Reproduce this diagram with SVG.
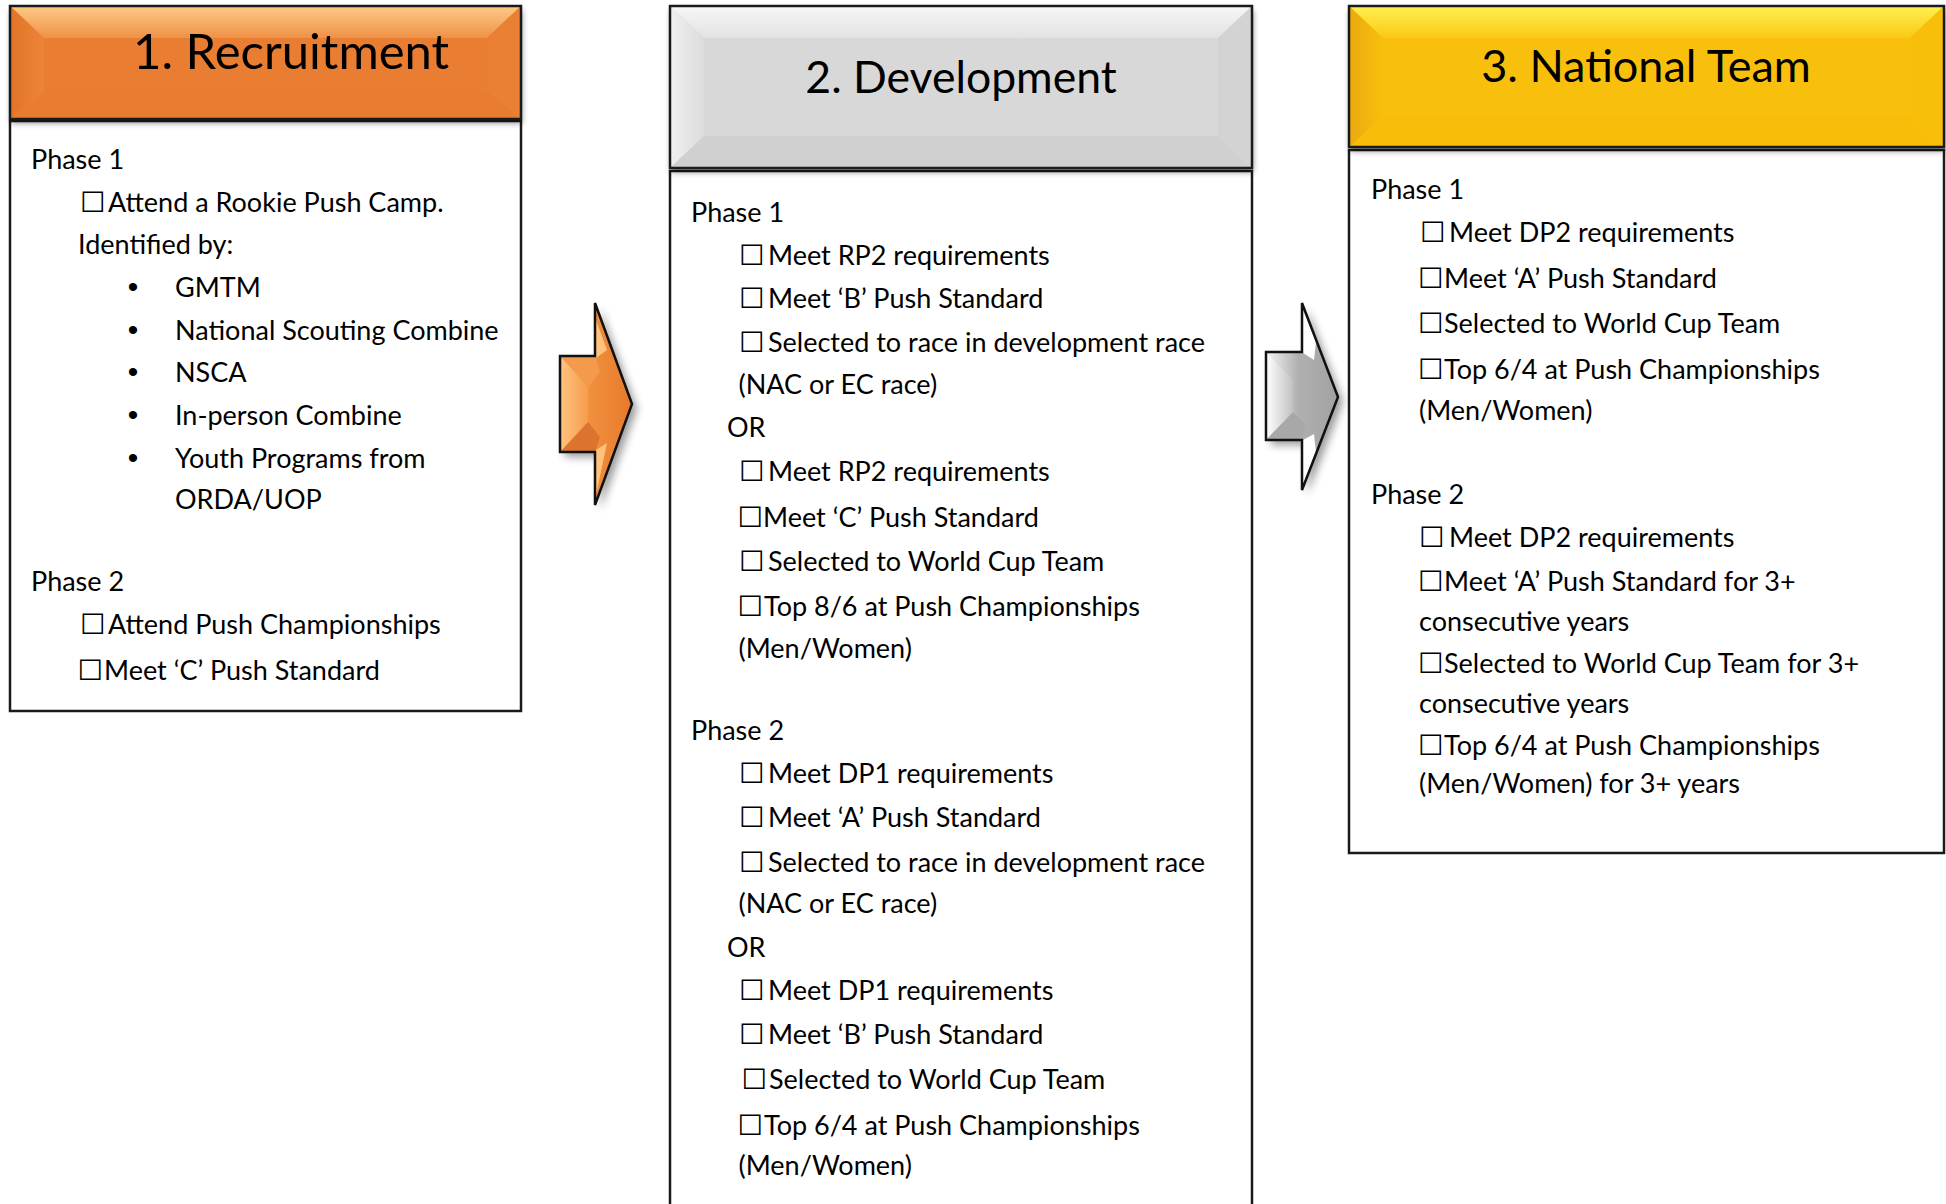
<svg xmlns="http://www.w3.org/2000/svg" width="1946" height="1204" viewBox="0 0 1946 1204">
<defs>
<style>
.t{font-family:Lato,"Liberation Sans",sans-serif;font-size:27px;fill:#000}
.cb{font-family:"DejaVu Sans",sans-serif;font-size:28.5px;fill:#000}
.bul{font-family:"Liberation Sans",sans-serif;font-size:30px;fill:#000;text-anchor:middle}
.ttl{font-family:Lato,"Liberation Sans",sans-serif;fill:#000}
.body{fill:#fff;stroke:#1a1a1a;stroke-width:2.5}
.hdr{stroke:#1a1a1a;stroke-width:2.5;fill:none}
.arr{stroke:#111;stroke-width:2.5;stroke-linejoin:miter;fill:none}
</style>
<filter id="sh" x="-10%" y="-10%" width="130%" height="140%">
<feGaussianBlur in="SourceAlpha" stdDeviation="3"/>
<feOffset dx="1" dy="4" result="b"/>
<feComponentTransfer><feFuncA type="linear" slope="0.45"/></feComponentTransfer>
<feMerge><feMergeNode/><feMergeNode in="SourceGraphic"/></feMerge>
</filter>
<filter id="ash" x="-30%" y="-20%" width="170%" height="150%">
<feGaussianBlur in="SourceAlpha" stdDeviation="4"/>
<feOffset dx="5" dy="5" result="b"/>
<feComponentTransfer><feFuncA type="linear" slope="0.4"/></feComponentTransfer>
<feMerge><feMergeNode/><feMergeNode in="SourceGraphic"/></feMerge>
</filter>
<linearGradient id="oTop" x1="0" y1="0" x2="0" y2="1"><stop offset="0" stop-color="#FDCB86"/><stop offset="1" stop-color="#EF9147"/></linearGradient>
<linearGradient id="oLeft" x1="0" y1="0" x2="1" y2="0"><stop offset="0" stop-color="#E27426"/><stop offset="1" stop-color="#EC8538"/></linearGradient>
<linearGradient id="gTop" x1="0" y1="0" x2="0" y2="1"><stop offset="0" stop-color="#F7F7F7"/><stop offset="1" stop-color="#E2E2E2"/></linearGradient>
<linearGradient id="gLeft" x1="0" y1="0" x2="1" y2="0"><stop offset="0" stop-color="#F0F0F0"/><stop offset="1" stop-color="#DCDCDC"/></linearGradient>
<linearGradient id="yTop" x1="0" y1="0" x2="0" y2="1"><stop offset="0" stop-color="#FFF050"/><stop offset="1" stop-color="#FAC915"/></linearGradient>
<linearGradient id="yLeft" x1="0" y1="0" x2="1" y2="0"><stop offset="0" stop-color="#E9AA10"/><stop offset="1" stop-color="#F8BF0C"/></linearGradient>
<linearGradient id="oArr" gradientUnits="userSpaceOnUse" x1="560" y1="0" x2="632" y2="0"><stop offset="0" stop-color="#FFC884"/><stop offset="0.4" stop-color="#F0913F"/><stop offset="1" stop-color="#E8792B"/></linearGradient>
<linearGradient id="oArrL" gradientUnits="userSpaceOnUse" x1="560" y1="0" x2="590" y2="0"><stop offset="0" stop-color="#FFC480"/><stop offset="1" stop-color="#F59A4A"/></linearGradient>
<linearGradient id="gArr" gradientUnits="userSpaceOnUse" x1="1266" y1="0" x2="1338" y2="0"><stop offset="0" stop-color="#F4F4F4"/><stop offset="0.45" stop-color="#B0B0B0"/><stop offset="1" stop-color="#A2A2A2"/></linearGradient>
<linearGradient id="gArrL" gradientUnits="userSpaceOnUse" x1="1266" y1="0" x2="1295" y2="0"><stop offset="0" stop-color="#FFFFFF"/><stop offset="1" stop-color="#BDBDBD"/></linearGradient>
</defs>
<rect width="1946" height="1204" fill="#fff"/>

<g id="connectors">
<g id="arrow1">
<polygon points="560,356 595,356 595,303 632,404 595,505 595,452 560,452" fill="url(#oArr)" filter="url(#ash)"/>
<polygon points="560,356 588,387 588,422 560,452" fill="url(#oArrL)"/>
<polygon points="560,356 595,356 600,372 588,387" fill="#F39A4C"/>
<polygon points="560,452 588,422 600,437 595,452" fill="#DC7430"/>
<polygon points="596,320 596,358 607,350" fill="#FFC37E"/>
<polygon points="596,450 596,495 607,443" fill="#FFC37E"/>
<polygon class="arr" points="560,356 595,356 595,303 632,404 595,505 595,452 560,452"/>
</g>
<g id="arrow2">
<polygon points="1266,352 1302,352 1302,303 1338,397 1302,490 1302,440 1266,440" fill="url(#gArr)" filter="url(#ash)"/>
<polygon points="1266,352 1293,380 1293,412 1266,440" fill="url(#gArrL)"/>
<polygon points="1266,440 1293,412 1306,425 1302,440" fill="#A8A8A8"/>
<polygon points="1303,310 1303,353 1314,360 1316,342" fill="#FFFFFF"/>
<polygon points="1303,484 1303,440 1314,434 1316,452" fill="#FFFFFF"/>
<polygon class="arr" points="1266,352 1302,352 1302,303 1338,397 1302,490 1302,440 1266,440"/>
</g>
</g>

<g id="node1">
<rect class="body" x="10" y="121" width="511" height="590"/>
<g filter="url(#sh)">
<rect x="10" y="6" width="511" height="113" fill="#E97D31"/>
</g>
<polygon points="10,6 521,6 487,38 44,38" fill="url(#oTop)"/>
<polygon points="10,6 44,38 44,92 10,119" fill="url(#oLeft)"/>
<polygon points="521,6 521,119 487,92 487,38" fill="#EA8033"/>
<polygon points="10,119 44,92 487,92 521,119" fill="#E87C30"/>
<rect class="hdr" x="10" y="6" width="511" height="113"/>
<text class="ttl" x="133" y="69" font-size="49">1. Recruitment</text>
<g transform="translate(0,2)">
<text class="t" x="31" y="167">Phase 1</text>
<text class="cb" x="80" y="210">☐</text><text class="t" x="108" y="210">Attend a Rookie Push Camp.</text>
<text class="t" x="78" y="252">Identified by:</text>
<text class="bul" x="133" y="295">•</text><text class="t" x="175" y="295">GMTM</text>
<text class="bul" x="133" y="338">•</text><text class="t" x="175" y="338">National Scouting Combine</text>
<text class="bul" x="133" y="380">•</text><text class="t" x="175" y="380">NSCA</text>
<text class="bul" x="133" y="423">•</text><text class="t" x="175" y="423">In-person Combine</text>
<text class="bul" x="133" y="466">•</text><text class="t" x="175" y="466">Youth Programs from</text>
<text class="t" x="175" y="507">ORDA/UOP</text>
<text class="t" x="31" y="589">Phase 2</text>
<text class="cb" x="80" y="632">☐</text><text class="t" x="108" y="632">Attend Push Championships</text>
<text class="cb" x="77.5" y="678">☐</text><text class="t" x="104" y="678">Meet ‘C’ Push Standard</text>
</g>
</g>

<g id="node2">
<rect class="body" x="670" y="171" width="582" height="1045"/>
<g filter="url(#sh)">
<rect x="670" y="6" width="582" height="162" fill="#D8D8D8"/>
</g>
<polygon points="670,6 1252,6 1218,38 704,38" fill="url(#gTop)"/>
<polygon points="670,6 704,38 704,136 670,168" fill="url(#gLeft)"/>
<polygon points="1252,6 1252,168 1218,136 1218,38" fill="#D3D3D3"/>
<polygon points="670,168 704,136 1218,136 1252,168" fill="#D0D0D0"/>
<rect class="hdr" x="670" y="6" width="582" height="162"/>
<text class="ttl" x="961" y="93" font-size="44.5" text-anchor="middle">2. Development</text>
<g transform="translate(0,2)">
<text class="t" x="691" y="220">Phase 1</text>
<text class="cb" x="739" y="263">☐</text><text class="t" x="768" y="263">Meet RP2 requirements</text>
<text class="cb" x="739" y="306">☐</text><text class="t" x="768" y="306">Meet ‘B’ Push Standard</text>
<text class="cb" x="739" y="350">☐</text><text class="t" x="768" y="350">Selected to race in development race</text>
<text class="t" x="738.5" y="392">(NAC or EC race)</text>
<text class="t" x="727" y="435">OR</text>
<text class="cb" x="739" y="479">☐</text><text class="t" x="768" y="479">Meet RP2 requirements</text>
<text class="cb" x="737.5" y="525">☐</text><text class="t" x="763" y="525">Meet ‘C’ Push Standard</text>
<text class="cb" x="739" y="569">☐</text><text class="t" x="768" y="569">Selected to World Cup Team</text>
<text class="cb" x="737.5" y="614">☐</text><text class="t" x="764" y="614">Top 8/6 at Push Championships</text>
<text class="t" x="738.5" y="656">(Men/Women)</text>
<text class="t" x="691" y="738">Phase 2</text>
<text class="cb" x="739" y="781">☐</text><text class="t" x="768" y="781">Meet DP1 requirements</text>
<text class="cb" x="739" y="825">☐</text><text class="t" x="768" y="825">Meet ‘A’ Push Standard</text>
<text class="cb" x="739" y="870">☐</text><text class="t" x="768" y="870">Selected to race in development race</text>
<text class="t" x="738.5" y="911">(NAC or EC race)</text>
<text class="t" x="727" y="955">OR</text>
<text class="cb" x="739" y="998">☐</text><text class="t" x="768" y="998">Meet DP1 requirements</text>
<text class="cb" x="739" y="1042">☐</text><text class="t" x="768" y="1042">Meet ‘B’ Push Standard</text>
<text class="cb" x="741.5" y="1087">☐</text><text class="t" x="769" y="1087">Selected to World Cup Team</text>
<text class="cb" x="737.5" y="1133">☐</text><text class="t" x="764" y="1133">Top 6/4 at Push Championships</text>
<text class="t" x="738.5" y="1173">(Men/Women)</text>
</g>
</g>

<g id="node3">
<rect class="body" x="1349" y="150" width="595" height="703"/>
<g filter="url(#sh)">
<rect x="1349" y="6" width="595" height="141" fill="#F8C00B"/>
</g>
<polygon points="1349,6 1944,6 1910,38 1383,38" fill="url(#yTop)"/>
<polygon points="1349,6 1383,38 1383,117 1349,147" fill="url(#yLeft)"/>
<polygon points="1944,6 1944,147 1910,117 1910,38" fill="#F7BE0A"/>
<polygon points="1349,147 1383,117 1910,117 1944,147" fill="#F7BD09"/>
<rect class="hdr" x="1349" y="6" width="595" height="141"/>
<text class="ttl" x="1646" y="82" font-size="45" text-anchor="middle">3. National Team</text>
<g transform="translate(0,2)">
<text class="t" x="1371" y="197">Phase 1</text>
<text class="cb" x="1420" y="240">☐</text><text class="t" x="1449" y="240">Meet DP2 requirements</text>
<text class="cb" x="1418" y="286">☐</text><text class="t" x="1444" y="286">Meet ‘A’ Push Standard</text>
<text class="cb" x="1418" y="331">☐</text><text class="t" x="1444" y="331">Selected to World Cup Team</text>
<text class="cb" x="1418" y="377">☐</text><text class="t" x="1444" y="377">Top 6/4 at Push Championships</text>
<text class="t" x="1419" y="418">(Men/Women)</text>
<text class="t" x="1371" y="502">Phase 2</text>
<text class="cb" x="1419" y="545">☐</text><text class="t" x="1449" y="545">Meet DP2 requirements</text>
<text class="cb" x="1418" y="589">☐</text><text class="t" x="1444" y="589">Meet ‘A’ Push Standard for 3+</text>
<text class="t" x="1419" y="629">consecutive years</text>
<text class="cb" x="1418" y="671">☐</text><text class="t" x="1444" y="671">Selected to World Cup Team for 3+</text>
<text class="t" x="1419" y="711">consecutive years</text>
<text class="cb" x="1418" y="753">☐</text><text class="t" x="1444" y="753">Top 6/4 at Push Championships</text>
<text class="t" x="1419" y="791">(Men/Women) for 3+ years</text>
</g>
</g>
</svg>
